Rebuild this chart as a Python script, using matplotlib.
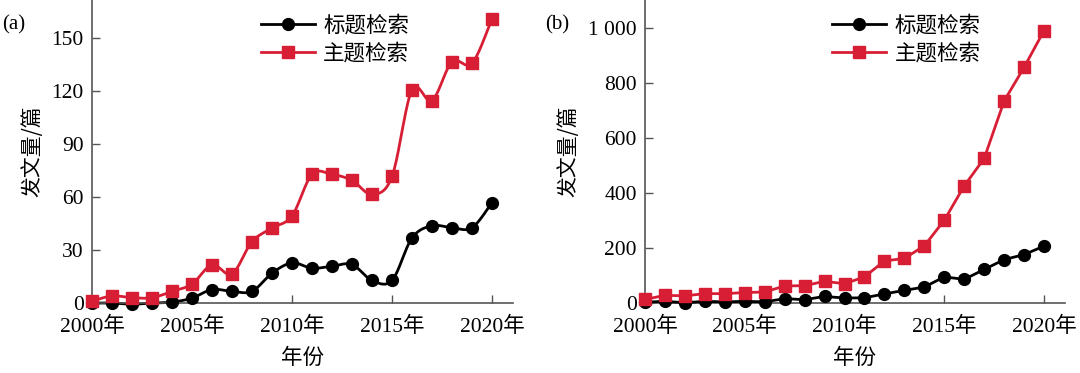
import numpy as np
import matplotlib
matplotlib.use("Agg")
from matplotlib import pyplot as plt

plt.rcParams['font.family'] = ['Liberation Serif', 'Noto Sans CJK SC']

years = list(range(2000, 2021))

# (a) counts
title_a = [0, 0, -0.7, 0, 0.5, 2.8, 7.6, 6.6, 6.6, 16.9, 22.7, 19.7, 20.8, 21.8,
           12.8, 12.8, 36.8, 43.7, 42.6, 42.6, 56.8]
topic_a = [1, 4, 3, 3, 6.6, 10.7, 21.6, 16.5, 34.7, 42.4, 49.3, 72.8, 72.8, 69.4,
           61.5, 71.6, 120.6, 114.6, 136.5, 135.6, 160.9]

# (b) counts
title_b = [3, 6, 1, 6, 4, 6, 4, 16, 12, 24, 18, 19, 33, 46, 58, 95, 86, 122, 158, 176, 207]
topic_b = [13, 28, 26, 34, 34, 38, 40, 62, 63, 79, 70, 95, 153, 162, 208, 301, 426,
           526, 735, 857, 991]

xticks = [2000, 2005, 2010, 2015, 2020]
xtick_labels = ['2000年', '2005年', '2010年', '2015年', '2020年']
yticks_a = [0, 30, 60, 90, 120, 150]
yticks_b = [0, 200, 400, 600, 800, 1000]
ytick_labels_b = ['0', '200', '400', '600', '800', '1 000']
legend_labels = ['标题检索', '主题检索']

RED = '#d81e34'
CJK = ['Noto Sans CJK SC', 'DejaVu Sans']
MS = 8.5
LW = 2.0


def smooth(x, y, n=20):
    # Catmull-Rom style smoothing like spreadsheet "smoothed line"
    x = np.asarray(x, float)
    y = np.asarray(y, float)
    xs, ys = [], []
    for i in range(len(x) - 1):
        p0 = np.array([x[max(i - 1, 0)], y[max(i - 1, 0)]])
        p1 = np.array([x[i], y[i]])
        p2 = np.array([x[i + 1], y[i + 1]])
        p3 = np.array([x[min(i + 2, len(x) - 1)], y[min(i + 2, len(x) - 1)]])
        c1 = p1 + (p2 - p0) / 6
        c2 = p2 - (p3 - p1) / 6
        t = np.linspace(0, 1, n)[:, None]
        pts = ((1 - t) ** 3) * p1 + 3 * ((1 - t) ** 2) * t * c1 + 3 * (1 - t) * t ** 2 * c2 + t ** 3 * p2
        xs.extend(pts[:, 0])
        ys.extend(pts[:, 1])
    return xs, ys


fig = plt.figure(figsize=(10.8, 3.73), dpi=100)
ax1 = fig.add_axes([92 / 1080, 70 / 373, 421 / 1080, 303 / 373])
ax2 = fig.add_axes([645 / 1080, 70 / 373, 420 / 1080, 303 / 373])


def style(ax):
    for s in ['top', 'right']:
        ax.spines[s].set_visible(False)
    for s in ['left', 'bottom']:
        ax.spines[s].set_color('#555555')
        ax.spines[s].set_linewidth(1.2)
    ax.tick_params(direction='in', length=6, width=1, color='#555555', labelsize=15.5)
    ax.tick_params(axis='y', pad=6)
    ax.tick_params(axis='x', pad=10)
    ax.set_xlim(2000, 2021.05)
    ax.set_xticks(xticks)
    ax.set_xticklabels(xtick_labels)
    ax.set_xlabel('年份', family=CJK, fontsize=15.5, labelpad=7)
    ax.set_ylabel('发文量/篇', family=CJK, fontsize=15, labelpad=6)


# panel a: smoothed lines
sx, sy = smooth(years, title_a)
ax1.plot(sx, sy, color='black', lw=LW, clip_on=False)
sx, sy = smooth(years, topic_a)
ax1.plot(sx, sy, color=RED, lw=LW, clip_on=False)
ax1.plot(years, title_a, 'o', color='black', ms=MS, clip_on=False, zorder=3)
ax1.plot(years, topic_a, 's', color=RED, ms=MS, clip_on=False, zorder=3)
ax1.set_ylim(0, 171.5)
ax1.set_yticks(yticks_a)
style(ax1)

h1, = ax1.plot([], [], '-o', color='black', lw=LW, ms=MS)
h2, = ax1.plot([], [], '-s', color=RED, lw=LW, ms=MS)
ax1.legend([h1, h2], legend_labels, loc='upper left', bbox_to_anchor=(0.355, 1.015),
           frameon=False, handlelength=2.5, handletextpad=0.4, labelspacing=0.25,
           prop={'family': CJK, 'size': 15.5})

# panel b
ax2.plot(years, title_b, '-o', color='black', lw=LW, ms=MS, clip_on=False, zorder=3)
ax2.plot(years, topic_b, '-s', color=RED, lw=LW, ms=MS, clip_on=False, zorder=3)
ax2.set_ylim(0, 1102)
ax2.set_yticks(yticks_b)
ax2.set_yticklabels(ytick_labels_b)
style(ax2)
ax2.legend([h1, h2], legend_labels, loc='upper left', bbox_to_anchor=(0.4, 1.015),
           frameon=False, handlelength=2.5, handletextpad=0.4, labelspacing=0.25,
           prop={'family': CJK, 'size': 15.5})

fig.text(2 / 1080, 1 - 25 / 373, '(a)', fontsize=15, va='center', ha='left')
fig.text(545 / 1080, 1 - 25 / 373, '(b)', fontsize=15, va='center', ha='left')

fig.savefig('out.png', dpi=100)
